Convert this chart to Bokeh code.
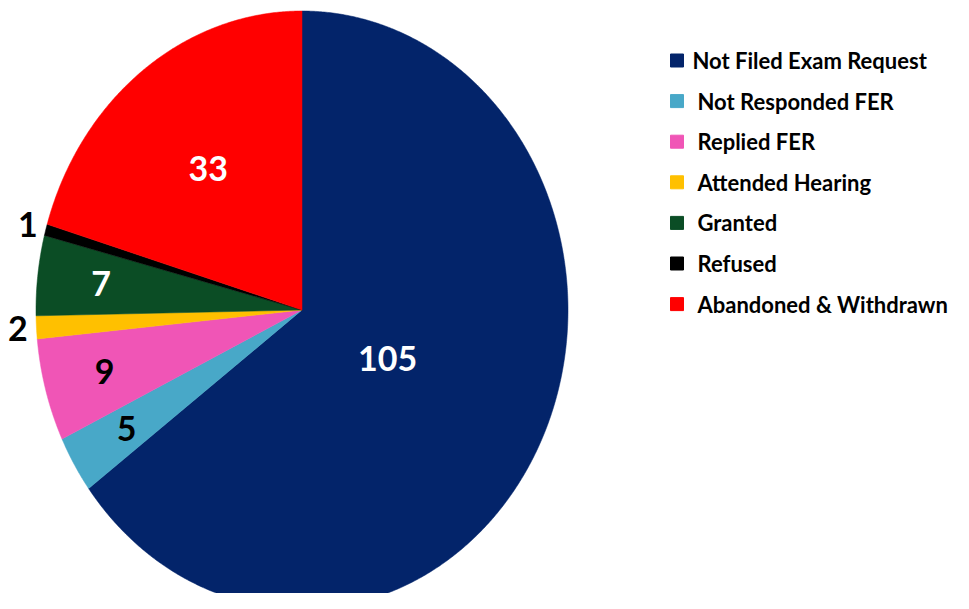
import numpy as np
from bokeh.plotting import figure
from bokeh.models import Range1d, ColumnDataSource
from bokeh.core.properties import value
from bokeh.embed import file_html
from bokeh.resources import INLINE

categories = ["Not Filed Exam Request", "Not Responded FER", "Replied FER",
              "Attended Hearing", "Granted", "Refused", "Abandoned & Withdrawn"]
counts = [105, 5, 9, 2, 7, 1, 33]
colors = ["#03246a", "#48a8c8", "#f055b6", "#ffc000", "#0b4d25", "#000000", "#ff0000"]
label_colors = ["white", "black", "black", "black", "white", "black", "white"]
label_radius = [0.36, 0.77, 0.77, 1.07, 0.76, 1.07, 0.59]

W, H = 953, 593
p = figure(width=W, height=H, output_backend="svg", toolbar_location=None,
           x_range=Range1d(0, W), y_range=Range1d(H, 0),
           min_border=0, outline_line_color=None)
p.axis.visible = False
p.grid.visible = False
p.background_fill_color = "white"

cx, cy, rx, ry = 301.5, 309.5, 266, 299
total = float(sum(counts))
cum = np.concatenate([[0], np.cumsum(counts)]) / total * 2 * np.pi

xs, ys, lx, ly = [], [], [], []
for i in range(len(counts)):
    t = np.linspace(cum[i], cum[i + 1], max(3, int(counts[i] * 6)))
    xs.append(list(np.concatenate([[cx], cx + rx * np.sin(t)])))
    ys.append(list(np.concatenate([[cy], cy - ry * np.cos(t)])))
    m = (cum[i] + cum[i + 1]) / 2
    lx.append(cx + label_radius[i] * rx * np.sin(m))
    ly.append(cy - label_radius[i] * ry * np.cos(m))

src = ColumnDataSource(dict(xs=xs, ys=ys, color=colors))
p.patches("xs", "ys", fill_color="color", line_color="color", line_width=0.5, source=src)

lsrc = ColumnDataSource(dict(x=lx, y=ly, t=[str(c) for c in counts], c=label_colors))
p.text("x", "y", text="t", text_color="c", source=lsrc, text_align="center",
       text_baseline="middle", text_font=value("Lato"), text_font_style="bold",
       text_font_size="34px")

# legend
n = len(categories)
leg_y = [60 + i * 40.6 for i in range(n)]
leg_x = [676.5] * n
txt_x = [692] + [697] * (n - 1)
gsrc = ColumnDataSource(dict(x=leg_x, y=leg_y, tx=txt_x, name=categories, color=colors))
p.scatter("x", "y", marker="square", size=13, fill_color="color", line_color="color", source=gsrc)
p.text("tx", "y", text="name", source=gsrc, text_align="left", text_baseline="middle",
       text_font=value("Lato"), text_font_style="bold", text_font_size="22px",
       text_color="black")

open("out.html", "w").write(file_html(p, INLINE))
